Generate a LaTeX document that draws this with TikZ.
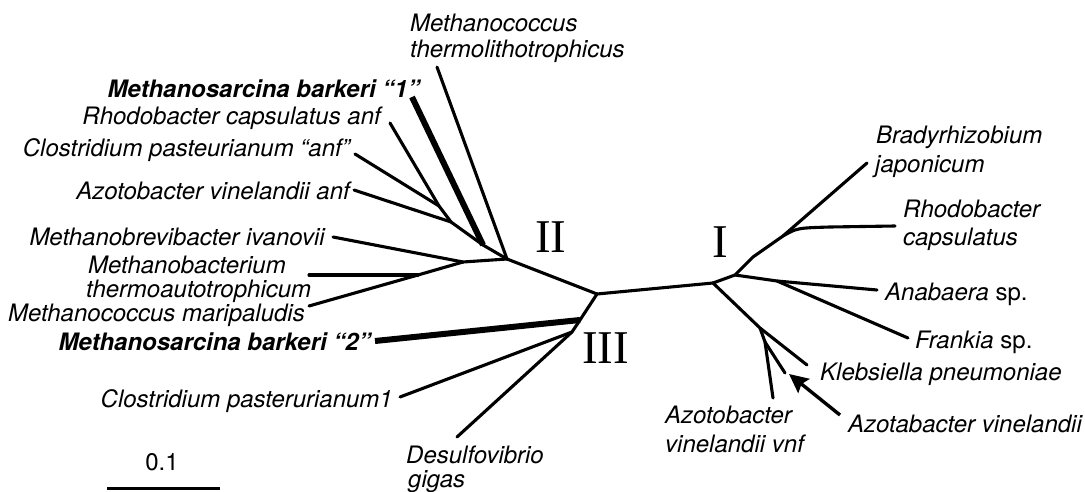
\documentclass[tikz,border=0pt]{standalone}
\usepackage{fontspec}
\setmainfont{TeX Gyre Heros}
\newfontfamily\romfont{Liberation Serif}
\usetikzlibrary{arrows.meta}
\begin{document}
\begin{tikzpicture}[x=1pt,y=-1pt,
  br/.style={line width=3.1pt, line cap=round, line join=round},
  thickbr/.style={line width=6pt, line cap=butt},
  lab/.style={inner sep=0pt, font=\fontsize{24}{25}\selectfont\itshape},
  blab/.style={inner sep=0pt, font=\fontsize{24}{25}\selectfont\bfseries\itshape},
  plain/.style={inner sep=0pt, font=\fontsize{24}{25}\selectfont},
  roman/.style={inner sep=0pt, font=\fontsize{47}{47}\selectfont\romfont}]
\useasboundingbox (0,0) rectangle (1085,492);

% ---------- tree nodes ----------
\coordinate (A) at (507,259);
\coordinate (C) at (597,294);
\coordinate (HI) at (713,283);
\coordinate (B) at (463,262);
\coordinate (M1) at (418,275);
\coordinate (P1) at (439,206);
\coordinate (P2) at (451,222);
\coordinate (P3) at (483,245);
\coordinate (D) at (580,320);
\coordinate (E) at (572,332);
\coordinate (F) at (735,275);
\coordinate (f2) at (753,257);
\coordinate (G) at (783,236);
\coordinate (Q) at (777,281);
\coordinate (H) at (760,328);
\coordinate (J) at (765,342);

% ---------- leaf ends ----------
\coordinate (mthL) at (437,67);
\coordinate (ms1L) at (412,97);
\coordinate (rhaL) at (390,123);
\coordinate (claL) at (355,154);
\coordinate (azaL) at (354,190);
\coordinate (mbrL) at (333,237);
\coordinate (mbaL) at (309,275);
\coordinate (mmaL) at (309,306);
\coordinate (ms2L) at (375,341);
\coordinate (cl1L) at (400,397);
\coordinate (dsL) at (457,437);
\coordinate (brL) at (867,163);
\coordinate (rhL) at (895,226);
\coordinate (anL) at (877,290);
\coordinate (frL) at (908,338);
\coordinate (klL) at (807,365);
\coordinate (viL) at (785,373);
\coordinate (vnL) at (773,398);
\coordinate (arT) at (840,415);
\coordinate (arH) at (789,374);
\coordinate (sbA) at (107,488);
\coordinate (sbB) at (220,488);

% ---------- branches ----------
\draw[br] (C) -- (HI);
\draw[br] (A) -- (C);
% group II
\draw[br] (mthL) -- (A);
\draw[br] (A) -- (P3) -- (P2) -- (P1) -- (rhaL);
\draw[br] (P1) -- (claL);
\draw[br] (P2) -- (azaL);
\draw[thickbr] (ms1L) -- (P3);
\draw[br] (A) -- (B) -- (mbrL);
\draw[br] (B) -- (M1) -- (mmaL);
\draw[br] (M1) -- (mbaL);
% group III
\draw[br] (C) -- (D) -- (E) -- (dsL);
\draw[br] (E) -- (cl1L);
\draw[thickbr] (D) -- (ms2L);
% group I
\draw[br] (HI) -- (F) -- (f2) -- (G) -- (brL);
\draw[br] (G) .. controls (797,228) .. (830,227) -- (rhL);
\draw[br] (F) -- (Q) -- (anL);
\draw[br] (Q) -- (frL);
\draw[br] (HI) -- (H) -- (klL);
\draw[br] (H) -- (J) -- (vnL);
\draw[br] (J) -- (viL);
\draw[line width=3.4pt, -{Stealth[length=19pt,width=18pt,inset=3pt]}] (arT) -- (arH);
% scale bar
\draw[line width=3pt] (sbA) -- (sbB);

% ---------- labels ----------
\node[lab, anchor=base west] (mth1) at (410,32) {Methanococcus};
\node[lab, anchor=base west] (mth2) at (410,58) {thermolithotrophicus};
\node[blab, anchor=base east] (ms1) at (420,98) {Methanosarcina barkeri “1”};
\node[lab, anchor=base east] (rha) at (381,125) {Rhodobacter capsulatus anf};
\node[lab, anchor=base east] (cla) at (350,157) {Clostridium pasteurianum “anf”};
\node[lab, anchor=base east] (aza) at (350,200) {Azotobacter vinelandii anf};
\node[lab, anchor=base east] (mbr) at (325,245) {Methanobrevibacter ivanovii};
\node[lab, anchor=base west] (mba1) at (88,273) {Methanobacterium};
\node[lab, anchor=base west] (mba2) at (86,297) {thermoautotrophicum};
\node[lab, anchor=base east] (mma) at (305,321) {Methanococcus maripaludis};
\node[blab, anchor=base east] (ms2) at (371,350) {Methanosarcina barkeri “2”};
\node[lab, anchor=base east] (cl1) at (393,407) {Clostridium pasterurianum1};
\node[lab, anchor=base west] (ds1) at (406,463) {Desulfovibrio};
\node[lab, anchor=base west] (ds2) at (408,487) {gigas};

\node[lab, anchor=base west] (br1) at (876,144) {Bradyrhizobium};
\node[lab, anchor=base west] (br2) at (875,172) {japonicum};
\node[lab, anchor=base west] (rh1) at (903,218) {Rhodobacter};
\node[lab, anchor=base west] (rh2) at (903,245) {capsulatus};
\node[lab, anchor=base west] (an) at (885,300) {Anabaera \upshape sp.};
\node[lab, anchor=base west] (fr) at (915,348) {Frankia \upshape sp.};
\node[lab, anchor=base west] (kl) at (820,380) {Klebsiella pneumoniae};
\node[lab, anchor=base west] (av) at (848,432) {Azotabacter vinelandii};
\node[lab, anchor=base west] (vn1) at (665,423) {Azotobacter};
\node[lab, anchor=base west] (vn2) at (665,452) {vinelandii vnf};

\node[roman, anchor=base west] (rII) at (535,252) {II};
\node[roman, anchor=base west] (rIII) at (582,363) {III};
\node[roman, anchor=base west] (rI) at (712,257) {I};
\node[plain, anchor=base] (sb) at (162,470) {0.1};
\end{tikzpicture}
\end{document}
